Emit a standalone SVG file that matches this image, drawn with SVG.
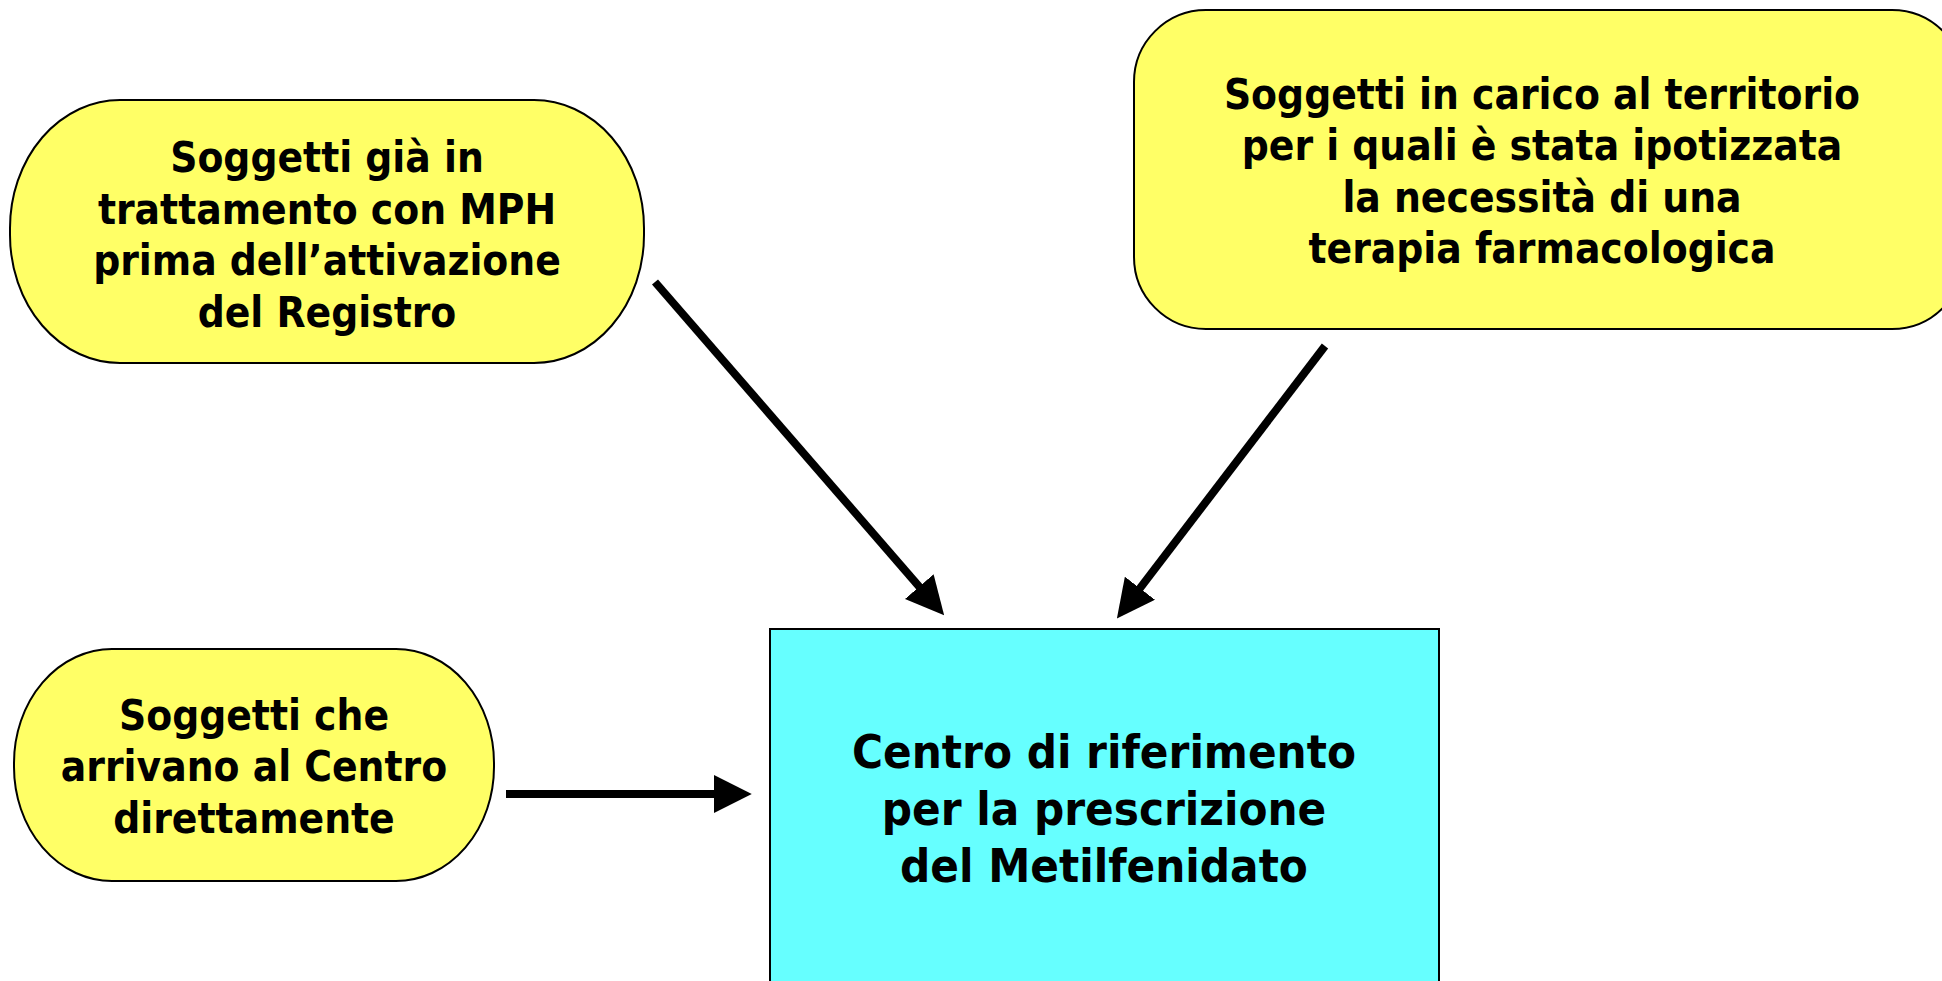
<svg xmlns="http://www.w3.org/2000/svg" width="1942" height="981" viewBox="0 0 1942 981">
<defs>
<style>
.y{fill:#FFFF66;stroke:#000;stroke-width:2}
.c{fill:#66FFFF;stroke:#000;stroke-width:2}
.t{font-family:"DejaVu Sans Condensed","DejaVu Sans",sans-serif;font-weight:bold;font-stretch:condensed;font-size:42px;fill:#000;text-anchor:middle}
.tb{font-size:47px}
.a{stroke:#000;stroke-width:8;fill:none;marker-end:url(#ah)}
</style>
<marker id="ah" markerUnits="userSpaceOnUse" markerWidth="38" markerHeight="38" viewBox="0 0 36 36" refX="4" refY="18" orient="auto">
<path d="M0,0 L36,18 L0,36 Z" fill="#000"/>
</marker>
</defs>
<rect width="1942" height="981" fill="#fff"/>
<g id="node-gia">
<rect class="y" x="10" y="100" width="634" height="263" rx="110" ry="128"/>
<text class="t" x="327"><tspan x="327" y="172">Soggetti già in</tspan><tspan x="327" y="224">trattamento con MPH</tspan><tspan x="327" y="275">prima dell’attivazione</tspan><tspan x="327" y="327">del Registro</tspan></text>
</g>
<g id="node-territorio">
<rect class="y" x="1134" y="10" width="830" height="319" rx="72" ry="72"/>
<text class="t" x="1542"><tspan x="1542" y="109">Soggetti in carico al territorio</tspan><tspan x="1542" y="160">per i quali è stata ipotizzata</tspan><tspan x="1542" y="212">la necessità di una</tspan><tspan x="1542" y="263">terapia farmacologica</tspan></text>
</g>
<g id="node-diretti">
<rect class="y" x="14" y="649" width="480" height="232" rx="98" ry="114"/>
<text class="t" x="254"><tspan x="254" y="730">Soggetti che</tspan><tspan x="254" y="781">arrivano al Centro</tspan><tspan x="254" y="833">direttamente</tspan></text>
</g>
<g id="node-centro">
<rect class="c" x="770" y="629" width="669" height="370"/>
<text class="t tb" x="1104"><tspan x="1104" y="768">Centro di riferimento</tspan><tspan x="1104" y="825">per la prescrizione</tspan><tspan x="1104" y="882">del Metilfenidato</tspan></text>
</g>
<g id="connectors">
<line class="a" x1="655" y1="282" x2="922" y2="589.8"/>
<line class="a" x1="1325" y1="346" x2="1137.4" y2="591.6"/>
<line class="a" x1="506" y1="794" x2="718" y2="794"/>
</g>
</svg>
